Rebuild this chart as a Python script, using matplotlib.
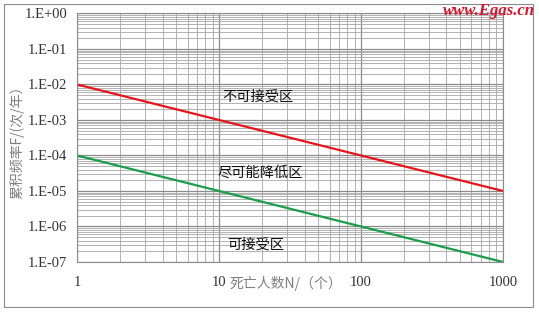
import matplotlib.pyplot as plt
from matplotlib.patches import Rectangle
from matplotlib.ticker import FixedLocator, LogLocator, NullFormatter

plt.rcParams['font.family'] = ['Liberation Serif', 'Noto Sans CJK SC', 'DejaVu Sans']

# 数据：F-N 曲线的两条界限
deaths = [1, 1000]
upper_limit = [1e-2, 1e-5]   # 不可接受线
lower_limit = [1e-4, 1e-7]   # 可接受线

x_ticks = [1, 10, 100, 1000]
x_tick_labels = ['1', '10', '100', '1000']
y_ticks = [1e0, 1e-1, 1e-2, 1e-3, 1e-4, 1e-5, 1e-6, 1e-7]
y_tick_labels = ['1.E+00', '1.E-01', '1.E-02', '1.E-03', '1.E-04', '1.E-05', '1.E-06', '1.E-07']

zone_names = ['不可接受区', '尽可能降低区', '可接受区']
zone_x = [18.8, 19.5, 18.2]
zone_y = [4.5e-3, 3.2e-5, 3.0e-7]

fig = plt.figure(figsize=(5.39, 3.13), dpi=100)
ax = fig.add_axes([0.1429, 0.163, 0.7903, 0.794])

ax.set_xscale('log')
ax.set_yscale('log')
ax.set_xlim(1, 1000)
ax.set_ylim(1e-7, 1)

ax.plot(deaths, upper_limit, color='#e8141c', lw=1.6, solid_capstyle='butt')
ax.plot(deaths, lower_limit, color='#1a9e4a', lw=1.6, solid_capstyle='butt')

ax.xaxis.set_major_locator(FixedLocator(x_ticks))
ax.set_xticklabels(x_tick_labels)
ax.yaxis.set_major_locator(FixedLocator(y_ticks))
ax.set_yticklabels(y_tick_labels)
ax.xaxis.set_minor_locator(LogLocator(base=10, subs=range(2, 10), numticks=20))
ax.yaxis.set_minor_locator(LogLocator(base=10, subs=range(2, 10), numticks=20))
ax.xaxis.set_minor_formatter(NullFormatter())
ax.yaxis.set_minor_formatter(NullFormatter())

ax.grid(which='major', color='#8c8c8c', lw=0.9)
ax.grid(which='minor', color='#a6a6a6', lw=0.6)
ax.set_axisbelow(True)
ax.tick_params(which='both', length=0, labelsize=10.5, colors='#333333')
ax.tick_params(axis='x', pad=10)
ax.tick_params(axis='y', pad=7)
for s in ax.spines.values():
    s.set_color('#8c8c8c')
    s.set_linewidth(0.8)

for name, zx, zy in zip(zone_names, zone_x, zone_y):
    ax.text(zx, zy, name, ha='center', va='center', fontsize=10.3, weight='medium',
            family=['Noto Sans CJK SC'], color='#111111')

fig.text(0.032, 0.555, '累积频率F/(次/年）', rotation=90, ha='center', va='center',
         fontsize=10, color='#808080', family=['Noto Sans CJK SC', 'Liberation Serif'])
fig.text(0.425, 0.095, '死亡人数N/（个）', ha='left', va='center',
         fontsize=10, color='#808080', family=['Noto Sans CJK SC', 'Liberation Serif'])

fig.text(0.993, 0.966, 'www.Egas.cn', ha='right', va='center', fontsize=12,
         color='#e0102a', style='italic', weight='bold', family=['Liberation Serif'])

fig.patches.append(Rectangle((0.007, 0.019), 0.982, 0.968, transform=fig.transFigure,
                             fill=False, edgecolor='#8c8c8c', lw=0.8))

fig.savefig('out.png', dpi=100)
